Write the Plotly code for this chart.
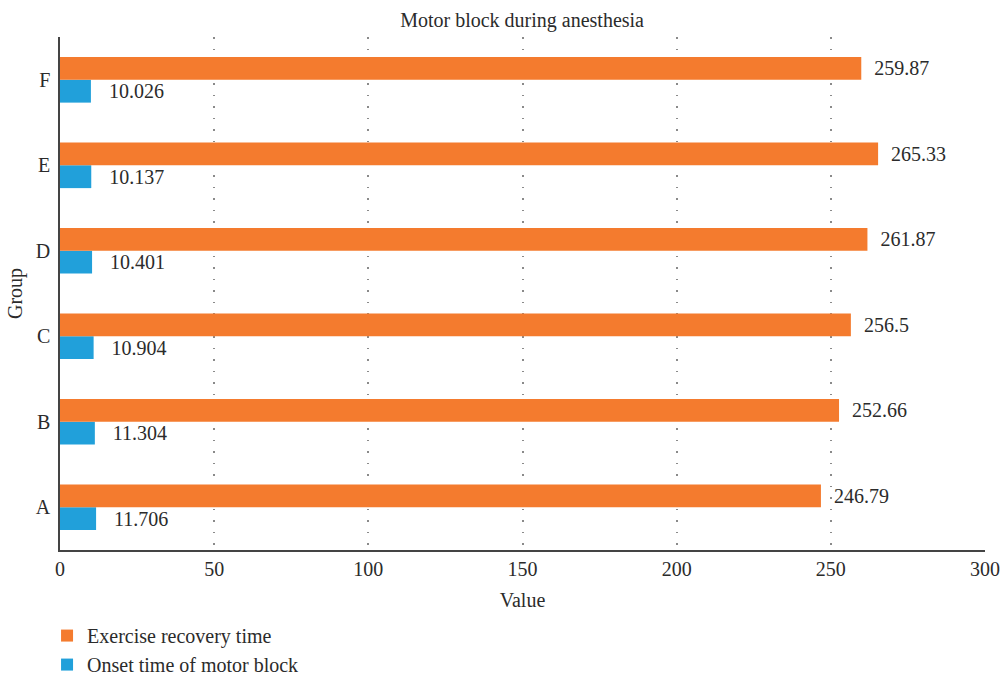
import plotly.graph_objects as go

groups = ["A", "B", "C", "D", "E", "F"]
recovery = [246.79, 252.66, 256.5, 261.87, 265.33, 259.87]
onset = [11.706, 11.304, 10.904, 10.401, 10.137, 10.026]
recovery_labels = ["246.79", "252.66", "256.5", "261.87", "265.33", "259.87"]
onset_labels = ["11.706", "11.304", "10.904", "10.401", "10.137", "10.026"]
x_ticks = [0, 50, 100, 150, 200, 250, 300]

ORANGE = "#F47B2E"
BLUE = "#21A0DA"
FONT = "Liberation Serif"
TXT = "#2b2b2b"
FS = 20

fig = go.Figure()
fig.add_trace(go.Bar(
    y=groups, x=onset, orientation="h", name="Onset time of motor block",
    marker=dict(color=BLUE, line=dict(width=0)),
    text=["   " + t for t in onset_labels], textposition="outside",
    textfont=dict(family=FONT, size=FS, color=TXT), cliponaxis=False,
    legendrank=2,
))
fig.add_trace(go.Bar(
    y=groups, x=recovery, orientation="h", name="Exercise recovery time",
    marker=dict(color=ORANGE, line=dict(width=0)),
    text=["  " + t for t in recovery_labels], textposition="outside",
    textfont=dict(family=FONT, size=FS, color=TXT), cliponaxis=False,
    legendrank=1,
))

fig.update_layout(
    width=1004, height=677,
    margin=dict(l=60, r=19, t=37, b=127, autoexpand=False),
    paper_bgcolor="white", plot_bgcolor="white",
    barmode="group", bargap=0.465, bargroupgap=0,
    font=dict(family=FONT, size=FS, color=TXT),
    title=dict(text="Motor block during anesthesia", x=0.52, xanchor="center",
               y=0.981, yanchor="top", font=dict(family=FONT, size=FS, color=TXT)),
    xaxis=dict(range=[0, 300], tickvals=x_ticks, showgrid=True,
               gridcolor="#8a8a8a", griddash="1.5px,10px", gridwidth=1.5,
               showline=True, linecolor="#444444", linewidth=1.5,
               zeroline=False, ticks="", ticklen=0, automargin=False,
               title=dict(text="Value", standoff=14, font=dict(family=FONT, size=FS)),
               tickfont=dict(family=FONT, size=FS)),
    yaxis=dict(range=[-0.5, 5.5], showgrid=False, showline=True,
               linecolor="#444444", linewidth=1.5, zeroline=False, ticks="",
               automargin=False,
               title=dict(text="Group", standoff=8, font=dict(family=FONT, size=FS)),
               tickfont=dict(family=FONT, size=FS), ticklabelstandoff=4),
    legend=dict(orientation="v", x=-0.014, xanchor="left",
                yref="container", y=0.09, yanchor="top",
                font=dict(family=FONT, size=FS, color=TXT), itemwidth=30,
                bgcolor="rgba(0,0,0,0)", tracegroupgap=0),
    showlegend=True,
)

fig.write_html("out.html")
